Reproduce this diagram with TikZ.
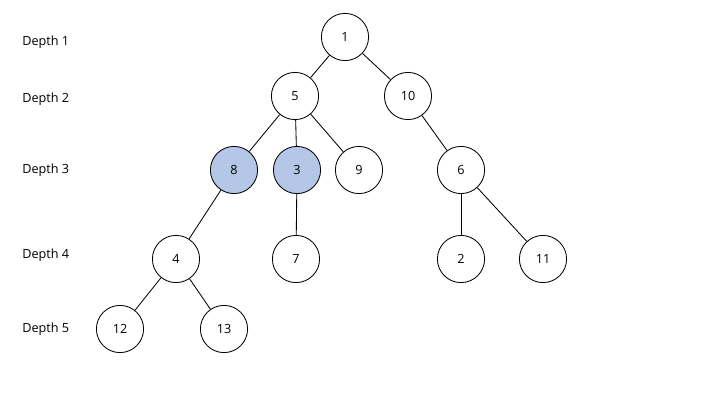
\documentclass[tikz,border=0pt]{standalone}
\usepackage{fontspec}
\setmainfont{Open Sans}
\usepackage{xcolor}
\definecolor{hlblue}{RGB}{180,199,231}
\usetikzlibrary{positioning}

\tikzset{
  treenode/.style={circle, draw=black, line width=0.6pt, fill=white,
                   minimum size=1.18cm, inner sep=0pt, font=\fontsize{9}{11}\selectfont},
  marked/.style={treenode, fill=hlblue},
  depthlabel/.style={anchor=west, inner sep=0pt, font=\fontsize{9}{11}\selectfont},
  edge/.style={line width=0.6pt}
}

\begin{document}
\begin{tikzpicture}
  % Canvas
  \useasboundingbox (0,0) rectangle (18,10.125);

  % --- Depth labels ---
  \node[depthlabel] (d1) at (0.55,9.075) {Depth 1};
  \node[depthlabel] (d2) at (0.55,7.65)  {Depth 2};
  \node[depthlabel] (d3) at (0.55,5.875) {Depth 3};
  \node[depthlabel] (d4) at (0.55,3.75)  {Depth 4};
  \node[depthlabel] (d5) at (0.55,1.9)   {Depth 5};

  % --- Tree nodes ---
  \node[treenode] (n1)  at (8.625,9.2)   {1};
  \node[treenode] (n5)  at (7.375,7.725) {5};
  \node[treenode] (n10) at (10.2,7.725)  {10};
  \node[marked]   (n8)  at (5.85,5.875)  {8};
  \node[marked]   (n3)  at (7.425,5.875) {3};
  \node[treenode] (n9)  at (8.975,5.875) {9};
  \node[treenode] (n6)  at (11.525,5.875) {6};
  \node[treenode] (n4)  at (4.4,3.65)    {4};
  \node[treenode] (n7)  at (7.4,3.65)    {7};
  \node[treenode] (n2)  at (11.525,3.65) {2};
  \node[treenode] (n11) at (13.575,3.65) {11};
  \node[treenode] (n12) at (3.0,1.9)     {12};
  \node[treenode] (n13) at (5.6,1.9)     {13};

  % --- Edges ---
  \draw[edge] (n1) -- (n5);
  \draw[edge] (n1) -- (n10);
  \draw[edge] (n5) -- (n8);
  \draw[edge] (n5) -- (n3);
  \draw[edge] (n5) -- (n9);
  \draw[edge] (n10) -- (n6);
  \draw[edge] (n8) -- (n4);
  \draw[edge] (n3) -- (n7);
  \draw[edge] (n6) -- (n2);
  \draw[edge] (n6) -- (n11);
  \draw[edge] (n4) -- (n12);
  \draw[edge] (n4) -- (n13);
\end{tikzpicture}
\end{document}
